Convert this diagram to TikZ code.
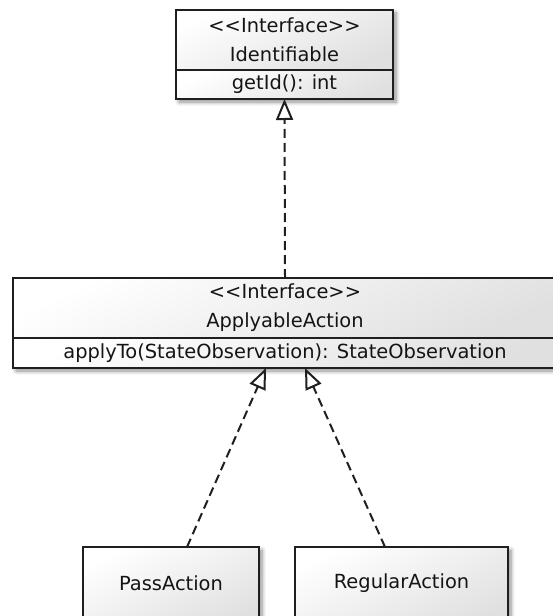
\documentclass[tikz,border=0pt]{standalone}
\usepackage{fontspec}
\setmainfont{DejaVu Sans}
\usetikzlibrary{arrows.meta,shadows.blur,fit,backgrounds}
\definecolor{umlline}{HTML}{1F1F1F}
\definecolor{umlfill}{HTML}{E0E0E0}
\definecolor{umltext}{HTML}{141414}
\begin{document}
\begin{tikzpicture}[x=1bp,y=-1bp,
  umlfont/.style={text=umltext, font=\fontsize{19.5}{29}\selectfont},
  umlpart/.style={draw=umlline, line width=2.2bp, inner sep=0pt, outer sep=0pt,
    anchor=north west, top color=white, bottom color=umlfill, shading angle=25,
    align=center, umlfont},
  umlshadow/.style={fill=white, inner sep=0pt, outer sep=0pt,
    blur shadow={shadow xshift=3bp, shadow yshift=-3bp, shadow blur steps=6,
      shadow blur radius=4bp, shadow opacity=45}},
  realize/.style={draw=umlline, line width=2bp, dash pattern=on 9bp off 5bp,
    -{Triangle[open, length=21bp, width=17bp, line width=2bp]}}
]
\useasboundingbox (0,0) rectangle (553,616);
\clip (0,0) rectangle (553,616);

% interface Identifiable
\node[umlpart, minimum width=217bp, minimum height=60bp] (idhead) at (176,10)
  {<{}<Interface>{}>\\Identifiable};
\node[umlpart, minimum width=217bp, minimum height=29bp] (idops) at (idhead.south west)
  {getId(): int};

% interface ApplyableAction
\node[umlpart, minimum width=544bp, minimum height=60bp] (aphead) at (13,278)
  {<{}<Interface>{}>\\ApplyableAction};
\node[umlpart, minimum width=544bp, minimum height=30bp] (apops) at (aphead.south west)
  {applyTo(StateObservation): StateObservation};

% implementing classes
\node[umlpart, umlshadow, top color=white, bottom color=umlfill, shading angle=25,
  minimum width=176bp, minimum height=80bp] (pass) at (83,547) {};
\node[umlfont] (passname) at (171,583) {PassAction};
\node[umlpart, umlshadow, top color=white, bottom color=umlfill, shading angle=25,
  minimum width=213bp, minimum height=80bp] (regular) at (295,547) {};
\node[umlfont] (regularname) at (401.5,583) {RegularAction};

% drop shadows of the interface boxes
\begin{scope}[on background layer]
  \node[umlshadow, fit=(idhead)(idops)] (idshadow) {};
  \node[umlshadow, fit=(aphead)(apops)] (apshadow) {};
\end{scope}

% realization connectors
\draw[realize] (aphead.north) -- (idops.south);
\draw[realize] ([xshift=16bp]pass.north) -- ([xshift=-19bp]apops.south);
\draw[realize] ([xshift=-16.5bp]regular.north) -- ([xshift=20bp]apops.south);
\end{tikzpicture}
\end{document}
